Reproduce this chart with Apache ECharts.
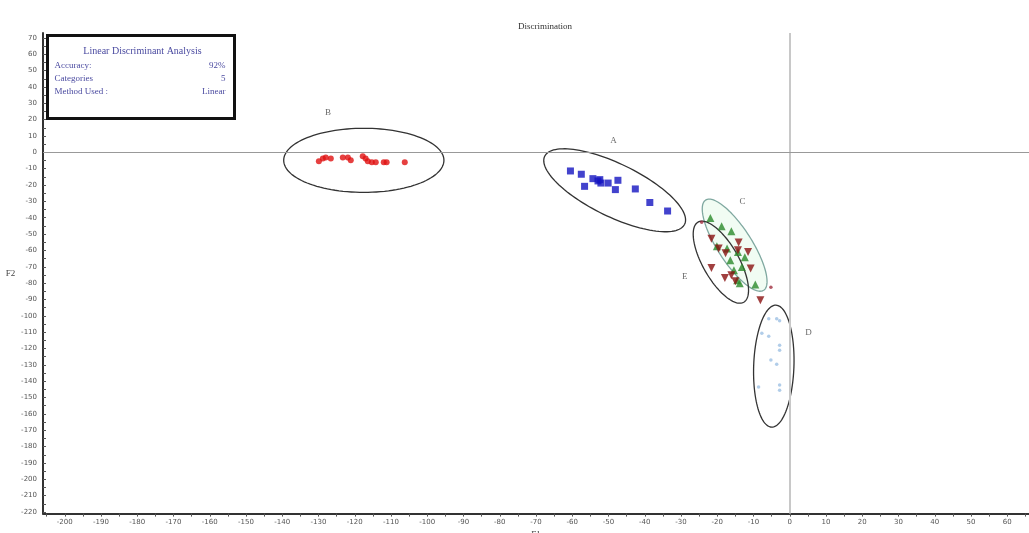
<!DOCTYPE html>
<html><head><meta charset="utf-8">
<script src="https://cdn.jsdelivr.net/npm/echarts@6/dist/echarts.min.js"></script>
<style>html,body{margin:0;padding:0;background:#fff}#c{width:1029px;height:533px}</style>
</head><body><div id="c"></div>
<script>
// ---- tick labels / marks ----
const xTickLabels = [-200,-190,-180,-170,-160,-150,-140,-130,-120,-110,-100,-90,-80,-70,-60,-50,-40,-30,-20,-10,0,10,20,30,40,50,60];
const xTickMarks = [-205,-200,-195,-190,-185,-180,-175,-170,-165,-160,-155,-150,-145,-140,-135,-130,-125,-120,-115,-110,-105,-100,-95,-90,-85,-80,-75,-70,-65,-60,-55,-50,-45,-40,-35,-30,-25,-20,-15,-10,-5,0,5,10,15,20,25,30,35,40,45,50,55,60,65];
const yTickLabels = [70,60,50,40,30,20,10,0,-10,-20,-30,-40,-50,-60,-70,-80,-90,-100,-110,-120,-130,-140,-150,-160,-170,-180,-190,-200,-210,-220];
const yTickMarks = [70,65,60,55,50,45,40,35,30,25,20,15,10,5,0,-5,-10,-15,-20,-25,-30,-35,-40,-45,-50,-55,-60,-65,-70,-75,-80,-85,-90,-95,-100,-105,-110,-115,-120,-125,-130,-135,-140,-145,-150,-155,-160,-165,-170,-175,-180,-185,-190,-195,-200,-205,-210,-215,-220];

// ---- group values ----
const groupA = [[-60.5,-11.4],[-57.5,-13.4],[-56.6,-20.8],[-54.3,-16.1],[-52.9,-17.5],[-52.1,-18.8],[-52.4,-16.7],[-50.1,-18.8],[-48.1,-22.8],[-47.4,-17.1],[-42.6,-22.4],[-38.6,-30.7],[-33.7,-35.9]];
const groupB = [[-129.9,-5.5],[-128.8,-3.7],[-128.0,-3.1],[-126.6,-3.7],[-123.3,-3.1],[-121.9,-3.1],[-121.1,-4.9],[-117.8,-2.4],[-117.0,-3.7],[-116.4,-5.5],[-115.3,-6.1],[-114.2,-6.1],[-112.0,-6.1],[-111.2,-6.1],[-106.2,-6.1]];
const groupC = [[-21.9,-40.2],[-18.8,-45.2],[-16.1,-48.3],[-17.3,-58.9],[-14.3,-60.9],[-16.4,-66.0],[-13.2,-70.1],[-14.5,-78.2],[-13.8,-80.1],[-9.5,-80.9],[-20.1,-57.5],[-12.4,-64.2],[-15.4,-72.1]];
const groupE = [[-21.6,-52.8],[-19.6,-58.9],[-14.1,-55.2],[-14.3,-59.9],[-11.5,-60.9],[-10.8,-71.1],[-21.6,-70.7],[-17.9,-76.8],[-16.1,-75.2],[-15.0,-78.9],[-8.1,-90.5],[-17.7,-61.7]];
const groupD = [[-5.8,-101.8],[-3.6,-101.8],[-2.8,-103.0],[-7.7,-110.6],[-5.8,-112.5],[-2.8,-118.0],[-2.8,-121.0],[-5.2,-127.1],[-3.6,-129.6],[-2.8,-142.4],[-2.8,-145.5],[-8.6,-143.6]];
const extraPoints = [[-24.3,-42.8],[-5.2,-82.5]];

// ---- group ellipses: [name, centerX, centerY, majorEndX, majorEndY, minor/major ratio] ----
const darkEllipses = [['B',-117.5,-4.9,-95.4,-4.9,0.40],['A',-48.3,-23.2,-29.0,-44.0,0.34],['E',-19.0,-67.2,-12.7,-91.7,0.39],['D',-4.4,-130.8,-5.0,-168.1,0.33]];
const lightEllipses = [['C',-15.2,-56.8,-7.2,-84.4,0.32]];

// ---- group name labels ----
const groupLabels = [['B',-127.4,24.4],['A',-48.6,7.3],['C',-13.0,-30.0],['E',-29.0,-75.8],['D',5.2,-110.6]];

const chart = echarts.init(document.getElementById('c'));

function ellipseItem(stroke, fill) {
  return function (params, api) {
    const c = api.coord([api.value(1), api.value(2)]);
    const e = api.coord([api.value(3), api.value(4)]);
    const a = Math.hypot(e[0]-c[0], e[1]-c[1]);
    const ang = Math.atan2(e[1]-c[1], e[0]-c[0]);
    const b = a * api.value(5);
    const pts = [];
    for (let i = 0; i < 120; i++) {
      const t = i / 120 * Math.PI * 2;
      const px = a*Math.cos(t), py = b*Math.sin(t);
      pts.push([c[0] + px*Math.cos(ang) - py*Math.sin(ang), c[1] + px*Math.sin(ang) + py*Math.cos(ang)]);
    }
    return {type:'polygon', shape:{points:pts}, style:{stroke:stroke, fill:fill, lineWidth:1.3}};
  };
}

const labelFont = {fontFamily:'Liberation Serif', fontSize:9, color:'#444'};
const boxFill = '#4a4aa0';

chart.setOption({
  animation:false,
  backgroundColor:'#fff',
  title:{text:'Discrimination', left:540, top:17, textAlign:'center',
    textStyle:{fontFamily:'Liberation Serif', fontSize:9, fontWeight:'normal', color:'#333'}},
  grid:{left:43, right:0, top:33, bottom:19.4, containLabel:false, outerBoundsMode:'none'},
  xAxis:{type:'value', min:-206, max:66, name:'F1', nameLocation:'middle', nameGap:17,
    nameTextStyle:{fontFamily:'Liberation Serif', fontSize:9, color:'#444'},
    axisLine:{onZero:false, lineStyle:{color:'#333', width:2}},
    axisTick:{show:true, customValues:xTickMarks, length:3, inside:false, lineStyle:{color:'#555'}},
    axisLabel:{customValues:xTickLabels, fontSize:7, color:'#555', margin:5, fontFamily:'DejaVu Sans'},
    splitLine:{show:false}},
  yAxis:{type:'value', min:-221, max:73, name:'F2', nameLocation:'middle', nameGap:27, nameRotate:0,
    nameTextStyle:{fontFamily:'Liberation Serif', fontSize:9, color:'#444'},
    axisLine:{onZero:false, lineStyle:{color:'#333', width:2}},
    axisTick:{show:true, customValues:yTickMarks, length:3, inside:true, lineStyle:{color:'#555'}},
    axisLabel:{customValues:yTickLabels, fontSize:7, color:'#555', margin:6, fontFamily:'DejaVu Sans'},
    splitLine:{show:false}},
  series:[
    {type:'custom', name:'ellipsesLight', data:lightEllipses, renderItem:ellipseItem('#7fa8a0','rgba(215,245,220,0.35)'), z:1, silent:true, clip:false},
    {type:'custom', name:'ellipsesDark', data:darkEllipses, renderItem:ellipseItem('#333','none'), z:2, silent:true, clip:false},
    {type:'scatter', name:'D', data:groupD, symbol:'circle', symbolSize:3.5, itemStyle:{color:'#9dc0e4'}, z:3},
    {type:'scatter', name:'B', data:groupB, symbol:'circle', symbolSize:6, itemStyle:{color:'#e01010'}, z:3},
    {type:'scatter', name:'A', data:groupA, symbol:'rect', symbolSize:7, itemStyle:{color:'#1414c0'}, z:3},
    {type:'scatter', name:'C', data:groupC, symbol:'triangle', symbolSize:8, itemStyle:{color:'#2a8a2a'}, z:4},
    {type:'scatter', name:'E', data:groupE, symbol:'triangle', symbolRotate:180, symbolSize:8, itemStyle:{color:'#8a1010'}, z:4},
    {type:'scatter', name:'extra', data:extraPoints, symbol:'circle', symbolSize:3.5, itemStyle:{color:'#a03040'}, z:4},
    {type:'scatter', name:'labels', data:groupLabels.map(d=>({name:d[0], value:[d[1],d[2]]})), symbolSize:0,
      label:{show:true, position:'inside', formatter:'{b}', ...labelFont}, z:5, silent:true,
      markLine:{silent:true, symbol:['none','none'], label:{show:false},
        data:[{xAxis:0, lineStyle:{color:'#c8c8c8', width:2, type:'solid'}},{yAxis:0, lineStyle:{color:'#999', width:1, type:'solid'}}]}}
  ],
  graphic:[
    {type:'group', left:46, top:34, children:[
      {type:'rect', shape:{x:0,y:0,width:187,height:83}, style:{fill:'#fff', stroke:'#111', lineWidth:3}},
      {type:'text', x:95, y:16, style:{text:'Linear Discriminant Analysis', textAlign:'center', textVerticalAlign:'middle', font:'10px "Liberation Serif"', fill:boxFill}},
      {type:'text', x:7, y:30, style:{text:'Accuracy:', textAlign:'left', textVerticalAlign:'middle', font:'9px "Liberation Serif"', fill:boxFill}},
      {type:'text', x:178, y:30, style:{text:'92%', textAlign:'right', textVerticalAlign:'middle', font:'9px "Liberation Serif"', fill:boxFill}},
      {type:'text', x:7, y:43, style:{text:'Categories', textAlign:'left', textVerticalAlign:'middle', font:'9px "Liberation Serif"', fill:boxFill}},
      {type:'text', x:178, y:43, style:{text:'5', textAlign:'right', textVerticalAlign:'middle', font:'9px "Liberation Serif"', fill:boxFill}},
      {type:'text', x:7, y:56, style:{text:'Method Used :', textAlign:'left', textVerticalAlign:'middle', font:'9px "Liberation Serif"', fill:boxFill}},
      {type:'text', x:178, y:56, style:{text:'Linear', textAlign:'right', textVerticalAlign:'middle', font:'9px "Liberation Serif"', fill:boxFill}}
    ]}
  ]
});
</script></body></html>
